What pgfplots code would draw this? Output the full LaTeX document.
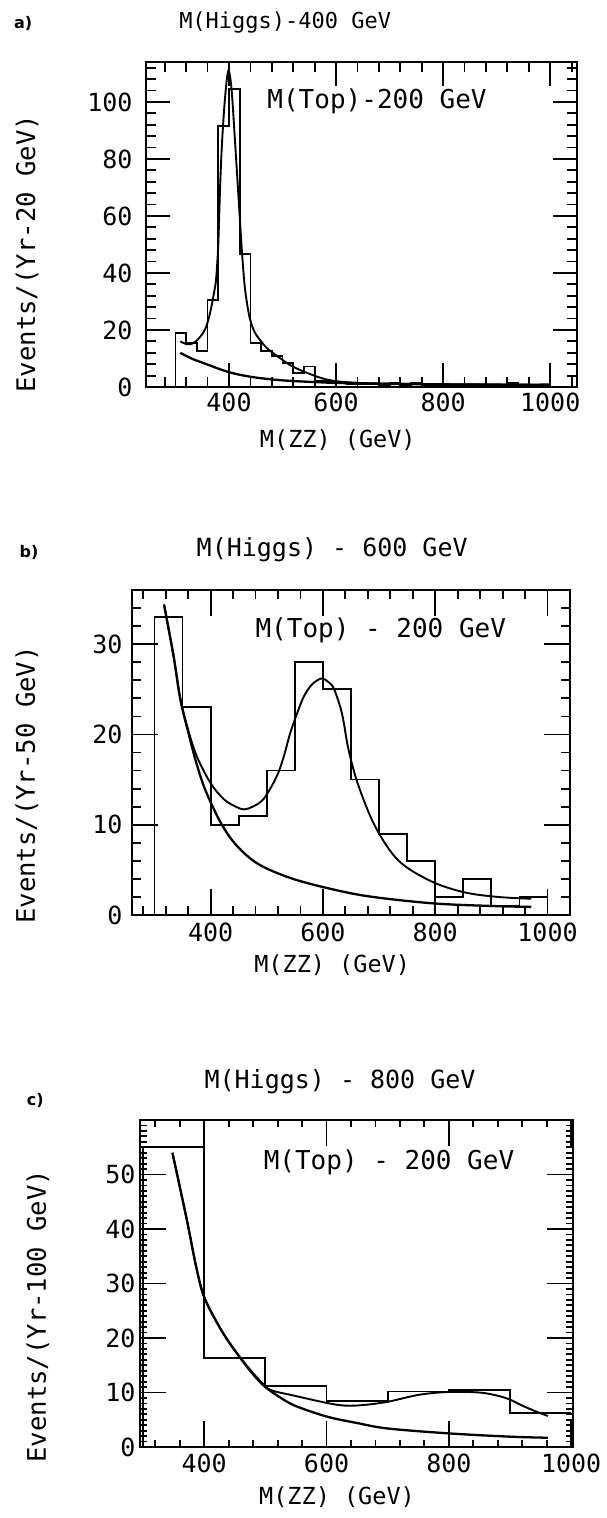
\documentclass[border=0pt]{standalone}
\usepackage{fontspec}
\setmainfont{DejaVu Sans Mono}
\newfontfamily\lblfont{DejaVu Sans}
\usepackage{pgfplots}
\pgfplotsset{compat=1.18}
\newcommand{\fs}[1]{\fontsize{#1}{#1}\selectfont}

\pgfplotsset{
  refstyle/.style={
    scale only axis,
    clip=false,
    axis line style={line width=2.4pt},
    tick style={line width=1.8pt, black},
    tick align=inside,
    /pgf/number format/assume math mode=true,
    /pgf/number format/1000 sep={},
    ticklabel style={font=\fs{25}},
    xlabel style={font=\fs{23.5}, anchor=center},
    ylabel style={font=\fs{25.6}, anchor=center},
  },
  hist/.style={const plot, black, line width=1.8pt, line join=miter},
  fit/.style={smooth, tension=0.55, black, line width=1.9pt},
}

\begin{document}
\begin{tikzpicture}
\path[use as bounding box] (0,0) rectangle (607pt,-1518pt);

% ---------------- panel a ----------------
\begin{axis}[refstyle,
  width=431pt, height=325pt, at={(146pt,-387pt)}, anchor=south west,
  major tick length=24pt, minor tick length=10pt,
  xmin=245, xmax=1050, ymin=0, ymax=114,
  xtick={400,600,800,1000}, minor xtick={280,320,...,1040},
  ytick={0,20,...,100}, minor ytick={4,8,...,112},
  yticklabel style={xshift=-10pt}, xticklabel style={yshift=-2pt},
  xlabel={M(ZZ) (GeV)},
  xlabel style={at={(axis description cs:0.445,-0.163)}},
  ylabel={Events/(Yr-20 GeV)},
  ylabel style={at={(axis description cs:-0.276,0.41)}},
]
\addplot[hist] coordinates {
(300,0) (300,19) (320,15.3) (340,12.6) (360,30.5) (380,91.6) (400,104.5)
(420,46.7) (440,15.3) (460,12.6) (480,11) (500,8.5) (520,5) (540,7.2)
(560,2) (580,2) (600,1.5) (620,1) (640,1) (660,1) (680,0.5) (700,1.5)
(720,0.5) (740,1.5) (760,0.5) (780,0.5) (800,0.5) (820,0.5) (840,0.5)
(860,0.5) (880,0.5) (900,0.5) (920,1.3) (940,0.5) (960,0.5) (980,0.5) (1000,0.5)
};
\addplot[fit] coordinates {
(309,16) (318,15.2) (328,15) (338,16) (348,18) (356,20.5) (362,24) (367,28)
(372,33) (376,38) (380,50) (383,68) (386,82) (389,92) (392,100) (396,108)
(399,111) (402,109) (405,104) (408,96) (411,87) (414,78) (417,69) (420,60)
(424,48) (429,36) (434,29) (439,24) (446,20) (452,18) (460,16) (470,13.8)
(483,11.8) (500,9.5) (514,7.7) (530,6.2) (545,5.0) (565,3.6) (583,2.6)
(607,1.9) (650,1.4) (700,1.2) (800,1.0) (900,0.9) (1000,0.9)
};
\addplot[fit, line width=2.3pt] coordinates {
(309,12) (330,10) (358,8) (400,5.2) (440,3.6) (483,2.6) (520,2.1) (564,1.7)
(607,1.4) (700,1.1) (800,0.9) (900,0.8) (1000,0.7)
};
\node[font=\fs{22}] at (axis description cs:0.323,1.123) {M(Higgs)-400 GeV};
\node[font=\fs{26}] at (axis description cs:0.536,0.88) {M(Top)-200 GeV};
\node[font=\lblfont\bfseries\fs{16}] at (axis description cs:-0.285,1.117) {a)};
\end{axis}

% ---------------- panel b ----------------
\begin{axis}[refstyle,
  width=438pt, height=325pt, at={(132pt,-915pt)}, anchor=south west,
  major tick length=26pt, minor tick length=9pt,
  xmin=260, xmax=1040, ymin=0, ymax=36,
  xtick={400,600,800,1000}, minor xtick={280,320,...,1000},
  ytick={0,10,20,30}, minor ytick={2,4,...,34},
  yticklabel style={xshift=-6pt}, xticklabel style={yshift=-4pt},
  xlabel={M(ZZ) (GeV)},
  xlabel style={at={(axis description cs:0.457,-0.154)}},
  ylabel={Events/(Yr-50 GeV)},
  ylabel style={at={(axis description cs:-0.24,0.4)}},
]
\addplot[hist] coordinates {
(300,0) (300,33) (350,23) (400,10) (450,11) (500,16) (550,28) (600,25)
(650,15) (700,9) (750,6) (800,2) (850,4) (900,1) (950,2) (1000,2)
};
\addplot[fit] coordinates {
(317,34.4) (334,28.7) (346,24) (360,20.5) (376,17.5) (400,14.6) (424,12.8)
(445,12) (459,11.7) (475,12) (495,12.9) (518,15.4) (530,17.5) (542,20.2)
(555,22.5) (566,24.2) (580,25.5) (597,26.2) (610,25.8) (620,25) (634,22.3)
(646,18.2) (664,14.2) (694,9.7) (735,6.0) (794,3.7) (853,2.5) (912,2.0) (971,1.8)
};
\addplot[fit, line width=2.3pt] coordinates {
(317,34.4) (334,28.7) (346,23.9) (360,20.3) (373,17.2) (386,14.6) (400,12.5)
(420,10.0) (442,8.0) (468,6.4) (495,5.3) (542,4.1) (600,3.1) (678,2.1)
(794,1.3) (900,1.0) (971,0.9)
};
\node[font=\fs{25}] at (axis description cs:0.457,1.123) {M(Higgs) - 600 GeV};
\node[font=\fs{26}] at (axis description cs:0.568,0.877) {M(Top) - 200 GeV};
\node[font=\lblfont\bfseries\fs{16}] at (axis description cs:-0.235,1.117) {b)};
\end{axis}

% ---------------- panel c ----------------
\begin{axis}[refstyle,
  width=433pt, height=327pt, at={(140pt,-1447pt)}, anchor=south west,
  major tick length=26pt, minor tick length=7pt,
  xmin=295, xmax=1003, ymin=0, ymax=60,
  xtick={400,600,800,1000}, minor xtick={320,360,...,960},
  ytick={0,10,...,50}, minor ytick={1,2,...,59},
  yticklabel style={xshift=-1pt}, xticklabel style={yshift=-3pt},
  xlabel={M(ZZ) (GeV)},
  xlabel style={at={(axis description cs:0.455,-0.153)}},
  ylabel={Events/(Yr-100 GeV)},
  ylabel style={at={(axis description cs:-0.236,0.4)}},
]
\addplot[hist] coordinates {
(300,0) (300,55) (400,16.3) (500,11.2) (600,8.5) (700,10.2) (800,10.4)
(900,6.2) (1000,6.2)
};
\addplot[fit] coordinates {
(348,54) (371,42) (387,33) (400,27.5) (425,22) (447,18.2) (475,14.2)
(497,11.5) (510,10.4) (548,9.4) (600,8.1) (630,7.6) (660,7.7) (700,8.3)
(752,9.6) (800,10.1) (850,10.0) (880,9.4) (900,8.7) (920,7.6) (945,6.4) (962,5.7)
};
\addplot[fit, line width=2.3pt] coordinates {
(348,54) (371,42) (387,33) (400,27.5) (425,22) (447,18.2) (475,14)
(497,11.3) (520,9.4) (548,7.6) (600,5.6) (650,4.4) (700,3.4) (800,2.5)
(900,1.9) (962,1.7)
};
\node[font=\fs{25}] at (axis description cs:0.462,1.116) {M(Higgs) - 800 GeV};
\node[font=\fs{26}] at (axis description cs:0.575,0.872) {M(Top) - 200 GeV};
\node[font=\lblfont\bfseries\fs{16}] at (axis description cs:-0.242,1.061) {c)};
\end{axis}
\end{tikzpicture}
\end{document}
